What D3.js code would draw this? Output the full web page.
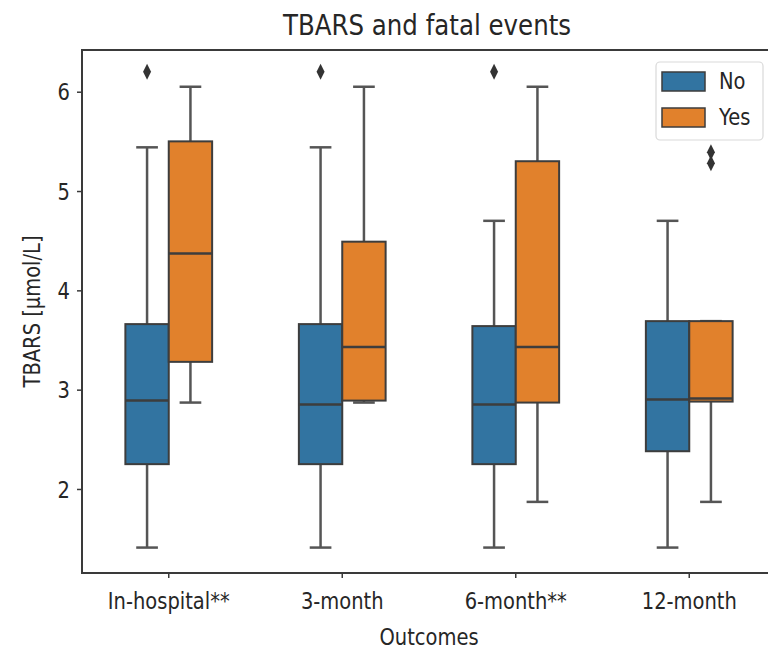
<!DOCTYPE html>
<html><head><meta charset="utf-8">
<script src="https://cdn.jsdelivr.net/npm/d3@7/dist/d3.min.js"></script>
<style>body{margin:0;background:#fff}</style></head>
<body>
<svg id="c" width="768" height="655"></svg>
<script>
// ---- data ----
const categories = ["In-hospital**", "3-month", "6-month**", "12-month"];
const groups = ["No", "Yes"];
const yTicks = [2, 3, 4, 5, 6];
// "No" group box statistics
const noLow  = [1.41, 1.41, 1.41, 1.41];
const noQ1   = [2.25, 2.25, 2.25, 2.38];
const noMed  = [2.89, 2.85, 2.85, 2.90];
const noQ3   = [3.66, 3.66, 3.64, 3.69];
const noHigh = [5.44, 5.44, 4.70, 4.70];
// "Yes" group box statistics
const yesLow  = [2.87, 2.87, 1.87, 1.87];
const yesQ1   = [3.28, 2.89, 2.87, 2.88];
const yesMed  = [4.37, 3.43, 3.43, 2.91];
const yesQ3   = [5.50, 4.49, 5.30, 3.69];
const yesHigh = [6.05, 6.05, 6.05, 3.69];
// outliers
const noOutliers  = [[6.20], [6.20], [6.20], []];
const yesOutliers = [[], [], [], [5.39, 5.28]];

const colors = {No: "#3274a1", Yes: "#e1812c"};

// ---- layout ----
const svg = d3.select("#c");
const L = 82, R = 776, T = 50, B = 573;
const x = d3.scaleBand().domain(categories).range([L, R]);
const y = d3.scaleLinear().domain([1.154, 6.42]).range([B, T]);
const bw = x.bandwidth() * 0.25;
const font = "DejaVu Sans, sans-serif";
const textCol = "#262626";
const SY = 1.2; // vertical stretch of text

const stats = {
  No: categories.map((c, i) => ({c, low: noLow[i], q1: noQ1[i], med: noMed[i], q3: noQ3[i], high: noHigh[i], out: noOutliers[i]})),
  Yes: categories.map((c, i) => ({c, low: yesLow[i], q1: yesQ1[i], med: yesMed[i], q3: yesQ3[i], high: yesHigh[i], out: yesOutliers[i]}))
};
const off = {No: -bw / 2, Yes: bw / 2};

groups.forEach(g => {
  const gg = svg.append("g");
  stats[g].forEach(d => {
    const cx = x(d.c) + x.bandwidth() / 2 + off[g];
    [[d.low, d.q1], [d.q3, d.high]].forEach(([a, b]) => {
      if (a !== b) gg.append("line").attr("x1", cx).attr("x2", cx).attr("y1", y(a)).attr("y2", y(b))
        .attr("stroke", "#555").attr("stroke-width", 2.5);
    });
    [d.low, d.high].forEach(v => {
      gg.append("line").attr("x1", cx - bw / 4).attr("x2", cx + bw / 4).attr("y1", y(v)).attr("y2", y(v))
        .attr("stroke", "#555").attr("stroke-width", 2.5);
    });
    gg.append("rect").attr("x", cx - bw / 2).attr("width", bw)
      .attr("y", y(d.q3)).attr("height", y(d.q1) - y(d.q3))
      .attr("fill", colors[g]).attr("stroke", "#3d3d3d").attr("stroke-width", 2);
    gg.append("line").attr("x1", cx - bw / 2).attr("x2", cx + bw / 2).attr("y1", y(d.med)).attr("y2", y(d.med))
      .attr("stroke", "#3d3d3d").attr("stroke-width", 2.5);
    d.out.forEach(v => {
      gg.append("path").attr("d", "M0,-8L4,0L0,8L-4,0Z")
        .attr("transform", `translate(${cx},${y(v)})`).attr("fill", "#333");
    });
  });
});

// frame
svg.append("rect").attr("x", L).attr("y", T).attr("width", R - L).attr("height", B - T)
  .attr("fill", "none").attr("stroke", "#3a3a3a").attr("stroke-width", 2);

// axes
const ya = svg.append("g").attr("transform", `translate(${L},0)`)
  .call(d3.axisLeft(y).tickValues(yTicks).tickSize(5).tickPadding(7).tickFormat(d3.format("d")));
ya.select(".domain").remove();
ya.selectAll("line").attr("stroke", "#3a3a3a").attr("stroke-width", 1.5);
ya.selectAll("text").attr("font-family", font).attr("font-size", 19.5).attr("fill", textCol)
  .attr("dy", "0.35em").attr("transform", `scale(1,${SY})`);

const xa = svg.append("g").attr("transform", `translate(0,${B})`)
  .call(d3.axisBottom(x).tickSize(5).tickPadding(10));
xa.select(".domain").remove();
xa.selectAll("line").attr("stroke", "#3a3a3a").attr("stroke-width", 1.5);
xa.selectAll("text").attr("font-family", font).attr("font-size", 19.5).attr("fill", textCol)
  .attr("y", 36 / SY).attr("dy", 0).attr("transform", `scale(1,${SY})`);

// titles
svg.append("text").attr("transform", `translate(${(L + R) / 2 - 2},35) scale(1,1.15)`).attr("text-anchor", "middle")
  .attr("font-family", font).attr("font-size", 24.5).attr("fill", textCol).text("TBARS and fatal events");
svg.append("text").attr("transform", `translate(${(L + R) / 2},645) scale(1,${SY})`).attr("text-anchor", "middle")
  .attr("font-family", font).attr("font-size", 19.5).attr("fill", textCol).text("Outcomes");
svg.append("text").attr("transform", `translate(40,${(T + B) / 2}) rotate(-90) scale(1,${SY})`).attr("text-anchor", "middle")
  .attr("font-family", font).attr("font-size", 19.5).attr("fill", textCol).text("TBARS [μmol/L]");

// legend
const lg = svg.append("g");
lg.append("rect").attr("x", 656).attr("y", 62).attr("width", 107).attr("height", 78).attr("rx", 4)
  .attr("fill", "#fff").attr("fill-opacity", 0.8).attr("stroke", "#d9d9d9").attr("stroke-width", 1.2);
groups.forEach((g, i) => {
  lg.append("rect").attr("x", 662).attr("y", 72 + i * 36).attr("width", 43).attr("height", 19)
    .attr("fill", colors[g]).attr("stroke", "#3d3d3d").attr("stroke-width", 1.5);
  lg.append("text").attr("transform", `translate(719,${89 + i * 36}) scale(1,${SY})`).attr("font-family", font).attr("font-size", 19.5)
    .attr("fill", textCol).text(g);
});
</script>
</body></html>
